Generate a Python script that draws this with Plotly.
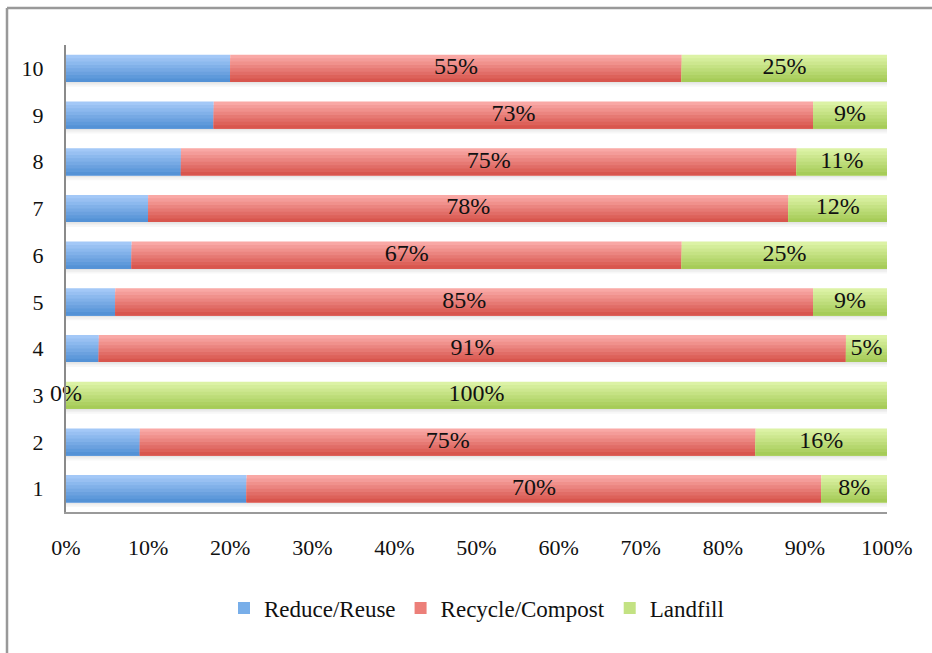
import plotly.graph_objects as go

categories = [1, 2, 3, 4, 5, 6, 7, 8, 9, 10]
reduce_reuse = [22, 9, 0, 4, 6, 8, 10, 14, 18, 20]
recycle_compost = [70, 75, 0, 91, 85, 67, 78, 75, 73, 55]
landfill = [8, 16, 100, 5, 9, 25, 12, 11, 9, 25]
series_names = ["Reduce/Reuse", "Recycle/Compost", "Landfill"]
x_ticks = [0, 10, 20, 30, 40, 50, 60, 70, 80, 90, 100]

FONT = "Liberation Serif, Times New Roman, serif"
BAR_W = 0.58
N_STRIPS = 8

# gradient (top colour, bottom colour)
grads = [((163, 200, 247), (84, 146, 214)),
         ((249, 168, 165), (216, 86, 78)),
         ((220, 242, 165), (166, 204, 88))]
legend_cols = ["#78aee9", "#ec7f79", "#c3e283"]

series = [reduce_reuse, recycle_compost, landfill]
bases = []
acc = [0] * len(categories)
for s in series:
    bases.append(list(acc))
    acc = [a + v for a, v in zip(acc, s)]
totals = acc

fig = go.Figure()

# soft shadow below each bar
for k, alpha in enumerate([0.10, 0.06, 0.03]):
    fig.add_trace(go.Bar(
        y=categories, x=totals, base=[0] * len(categories), orientation="h",
        width=0.035, offset=-BAR_W / 2 - 0.035 * (k + 1),
        marker=dict(color=f"rgba(0,0,0,{alpha})", line=dict(width=0)),
        showlegend=False, hoverinfo="skip"))

def lerp(c1, c2, t):
    return "rgb(%d,%d,%d)" % tuple(round(a + (b - a) * t) for a, b in zip(c1, c2))

sw = BAR_W / N_STRIPS
for i, (name, vals) in enumerate(zip(series_names, series)):
    top, bot = grads[i]
    for k in range(N_STRIPS):
        t = k / (N_STRIPS - 1)
        # each strip reaches down to the bottom of the bar so no seams show
        fig.add_trace(go.Bar(
            y=categories, x=vals, base=bases[i], orientation="h",
            width=BAR_W - k * sw, offset=-BAR_W / 2,
            marker=dict(color=lerp(top, bot, t), line=dict(width=0)),
            name=name, legendgroup=name, showlegend=False, hoverinfo="skip"))
    # legend entry
    fig.add_trace(go.Bar(
        y=[None], x=[None], orientation="h", name=name, legendgroup=name,
        marker=dict(color=legend_cols[i], line=dict(width=0)), showlegend=True))

# data labels for Recycle/Compost and Landfill
for i in (1, 2):
    vals = series[i]
    fig.add_trace(go.Scatter(
        y=categories, x=[b + v / 2 for b, v in zip(bases[i], vals)],
        mode="text", text=[f"{v}%" for v in vals],
        textfont=dict(family=FONT, size=24, color="#111111"),
        textposition="middle center", showlegend=False, hoverinfo="skip",
        cliponaxis=False))

L, R, T, B = 66, 45, 45, 141
W, H = 932, 653
pw, ph = W - L - R, H - T - B

def px(x):
    return (x - L) / pw

def py(y):
    return (H - B - y) / ph

fig.update_layout(
    width=W, height=H,
    margin=dict(l=L, r=R, t=T, b=B),
    barmode="overlay",
    paper_bgcolor="white", plot_bgcolor="white",
    font=dict(family=FONT, size=22, color="#111111"),
    xaxis=dict(range=[0, 100], tickvals=x_ticks,
               ticktext=[f"{v}%" for v in x_ticks],
               showgrid=False, zeroline=False, showline=True,
               linecolor="#9a9a9a", linewidth=2, ticks="",
               ticklabelstandoff=15, fixedrange=True),
    yaxis=dict(range=[0.5, 10.5], tickvals=categories,
               ticktext=[str(c) for c in categories],
               showgrid=False, zeroline=False, showline=True,
               linecolor="#8a8a8a", linewidth=2, ticks="",
               ticklabelstandoff=16, fixedrange=True),
    legend=dict(orientation="h", x=0.5, xanchor="center",
                y=py(608), yanchor="middle",
                font=dict(family=FONT, size=23, color="#111111"),
                itemwidth=30, tracegroupgap=0, bgcolor="rgba(0,0,0,0)"),
    shapes=[
        dict(type="line", xref="paper", yref="paper",
             x0=px(7), x1=px(W + 5), y0=py(8), y1=py(8),
             line=dict(color="#999999", width=2.5)),
        dict(type="line", xref="paper", yref="paper",
             x0=px(7), x1=px(7), y0=py(8), y1=py(H + 5),
             line=dict(color="#999999", width=2.5)),
    ],
)

fig.write_html("out.html", config={"displayModeBar": False})
